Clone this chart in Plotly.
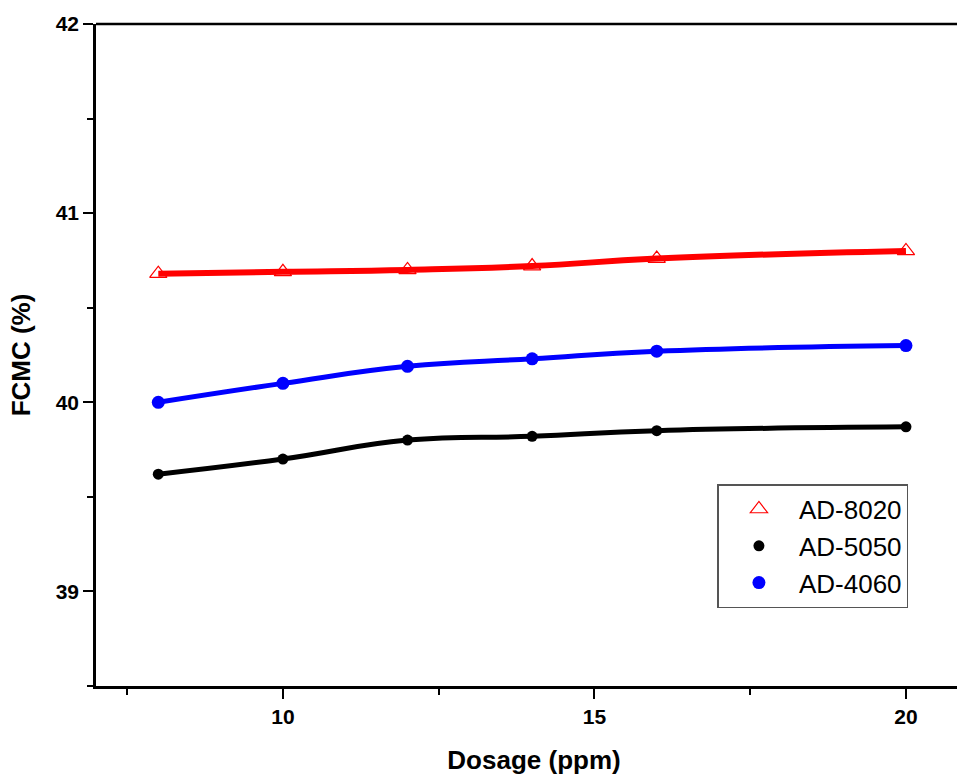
import plotly.graph_objects as go

dosage = [8, 10, 12, 14, 16, 20]
ad8020 = [40.68, 40.69, 40.70, 40.72, 40.76, 40.80]
ad5050 = [39.62, 39.70, 39.80, 39.82, 39.85, 39.87]
ad4060 = [40.00, 40.10, 40.19, 40.23, 40.27, 40.30]

names = ["AD-8020", "AD-5050", "AD-4060"]
colors = ["#ff0000", "#000000", "#0000ff"]

fig = go.Figure()

# markers
fig.add_trace(go.Scatter(x=dosage, y=ad8020, mode="markers", name=names[0],
                         marker=dict(symbol="triangle-up-open", size=15, color=colors[0],
                                     line=dict(width=1.2, color=colors[0]))))
fig.add_trace(go.Scatter(x=dosage, y=ad5050, mode="markers", name=names[1],
                         marker=dict(symbol="circle", size=11, color=colors[1])))
fig.add_trace(go.Scatter(x=dosage, y=ad4060, mode="markers", name=names[2],
                         marker=dict(symbol="circle", size=13, color=colors[2])))

series = [ad8020, ad5050, ad4060]
widths = [6, 5, 5]
for s, c, w in zip(series, colors, widths):
    fig.add_trace(go.Scatter(x=dosage, y=s, mode="lines",
                             line=dict(color=c, width=w, shape="spline", smoothing=1.3),
                             showlegend=False, hoverinfo="skip"))

tickfont = dict(family="Arial, Liberation Sans, sans-serif", size=21, color="black", weight="bold")
titlefont = dict(family="Arial, Liberation Sans, sans-serif", size=26, color="black", weight="bold")

fig.update_layout(
    width=972, height=776,
    margin=dict(l=96, r=0, t=24, b=90),
    paper_bgcolor="white", plot_bgcolor="white",
    font=dict(family="Arial, Liberation Sans, sans-serif", color="black"),
    legend=dict(x=0.7094, y=0.305, xanchor="left", yanchor="top",
                bordercolor="#555555", borderwidth=1.5, bgcolor="white",
                font=dict(size=26, family="Arial, Liberation Sans, sans-serif", color="black"),
                itemwidth=70, tracegroupgap=0),
    xaxis=dict(range=[7, 21.06], tickvals=[10, 15, 20], ticks="outside", ticklen=10,
               tickwidth=2, tickcolor="black", showline=True, linecolor="black", linewidth=2.5,
               mirror=False, showgrid=False, zeroline=False, tickfont=tickfont,
               minor=dict(tickvals=[7.5, 12.5, 17.5], ticks="outside", ticklen=6,
                          tickwidth=2, tickcolor="black"),
               title=dict(text="Dosage (ppm)", font=titlefont, standoff=24)),
    yaxis=dict(range=[38.5, 42], tickvals=[39, 40, 41, 42], ticks="outside", ticklen=10,
               tickwidth=2, tickcolor="black", showline=True, linecolor="black", linewidth=2.5,
               mirror=False, showgrid=False, zeroline=False, tickfont=tickfont,
               minor=dict(tickvals=[38.5, 39.5, 40.5, 41.5], ticks="outside", ticklen=6,
                          tickwidth=2, tickcolor="black"),
               title=dict(text="FCMC (%)", font=titlefont, standoff=18)),
    shapes=[dict(type="line", xref="paper", yref="paper", x0=0, x1=1, y0=1, y1=1,
                 line=dict(color="black", width=2.5))],
)

fig.write_html("out.html", config={"displayModeBar": False},
               post_script="document.documentElement.style.overflow='hidden';document.body.style.margin='0';document.body.style.overflow='hidden';")
